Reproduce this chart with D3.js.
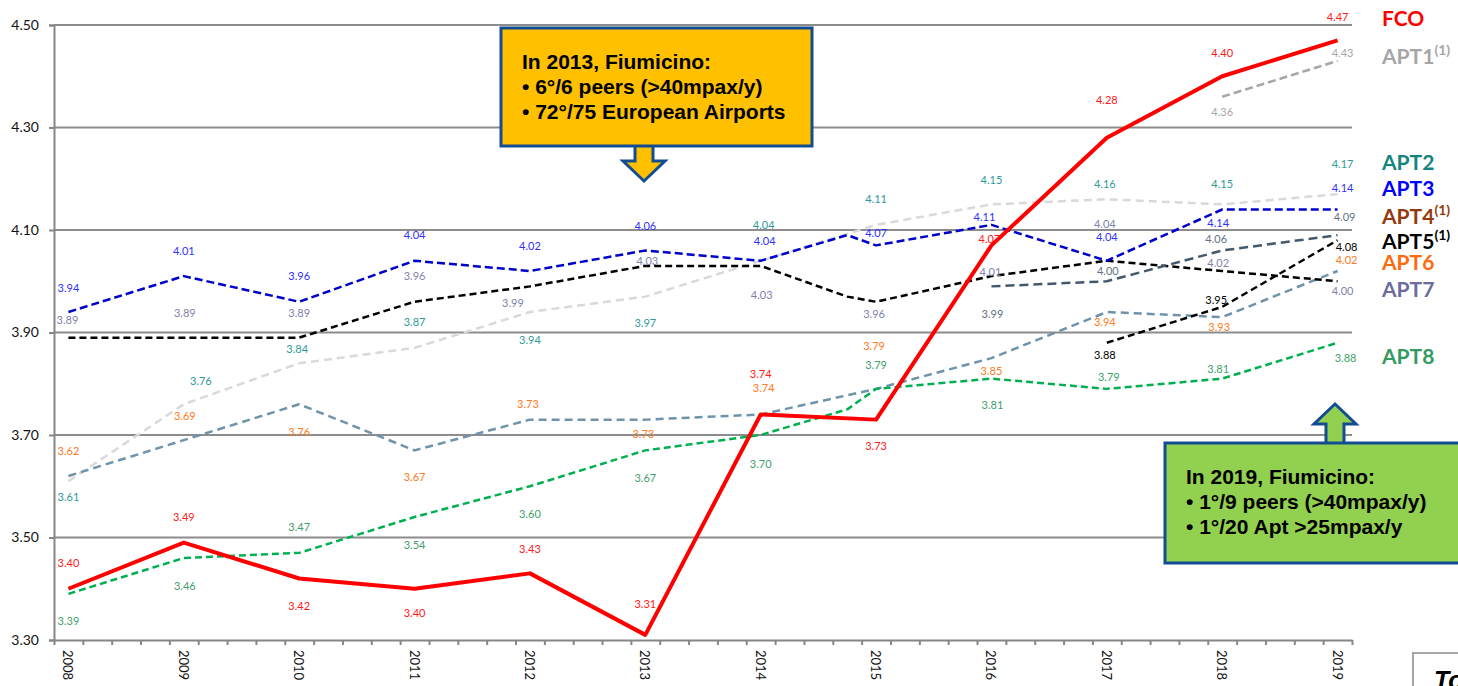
<!DOCTYPE html>
<html>
<head>
<meta charset="utf-8">
<script src="https://cdn.jsdelivr.net/npm/d3@7"></script>
<style>
  body { margin: 0; background: #fff; overflow: hidden; }
  .graphContainer { width: 1458px; height: 686px; }
</style>
</head>
<body>
<div class="graphContainer"></div>
<script>
var width = 1458;
var height = 686;

// data

var years = [2008, 2009, 2010, 2011, 2012, 2013, 2014, 2015, 2016, 2017, 2018, 2019];
var yTicks = [3.3, 3.5, 3.7, 3.9, 4.1, 4.3, 4.5];

var fco  = [3.40, 3.49, 3.42, 3.40, 3.43, 3.31, 3.74, 3.73, 4.07, 4.28, 4.40, 4.47];
var apt1 = [null, null, null, null, null, null, null, null, null, null, 4.36, 4.43];
var apt2 = [3.61, 3.76, 3.84, 3.87, 3.94, 3.97, 4.04, 4.11, 4.15, 4.16, 4.15, 4.17];
var apt3 = [3.94, 4.01, 3.96, 4.04, 4.02, 4.06, 4.04, 4.07, 4.11, 4.04, 4.14, 4.14];
var apt4 = [null, null, null, null, null, null, null, null, 3.99, 4.00, 4.06, 4.09];
var apt5 = [null, null, null, null, null, null, null, null, null, 3.88, 3.95, 4.08];
var apt6 = [3.62, 3.69, 3.76, 3.67, 3.73, 3.73, 3.74, 3.79, 3.85, 3.94, 3.93, 4.02];
var apt7 = [3.89, 3.89, 3.89, 3.96, 3.99, 4.03, 4.03, 3.96, 4.01, 4.04, 4.02, 4.00];
var apt8 = [3.39, 3.46, 3.47, 3.54, 3.60, 3.67, 3.70, 3.79, 3.81, 3.79, 3.81, 3.88];

// extra bend points the original lines have between 2014 and 2015
var apt3Bends = [[2014.75, 4.09]];
var apt7Bends = [[2014.75, 3.97]];
var apt8Bends = [[2014.75, 3.75]];

// label nudges (px) relative to each point

var fcoDy  = [-26, -26, 27, 24, -25, -31, -41, 26, -7, -38, -24, -24];
var apt1Dy = [0, 0, 0, 0, 0, 0, 0, 0, 0, 0, 15, -8];
var apt2Dy = [15, -24, -15, -26, 27, 26, -36, -26, -25, -16, -21, -31];
var apt3Dy = [-25, -26, -26, -26, -26, -25, -20, -13, -8, -24, 13, -22];
var apt4Dy = [0, 0, 0, 0, 0, 0, 0, 0, 27, -11, -12, -19];
var apt5Dy = [0, 0, 0, 0, 0, 0, 0, 0, 0, 12, -7, 6];
var apt6Dy = [-26, -25, 27, 26, -16, 14, -27, -43, 12, 9, 9, -12];
var apt7Dy = [-18, -25, -25, -26, 16, -5, 29, 12, -5, -37, -9, 9];
var apt8Dy = [27, 27, -26, 27, 27, 27, 28, -24, 26, -12, -10, 15];

var fcoDx  = [0, 0, 0, 0, 0, 0, 0, 0, -2, 0, 0, 0];
var apt1Dx = [0, 0, 0, 0, 0, 0, 0, 0, 0, 0, 0, 5];
var apt2Dx = [0, 17, -2, 0, 0, 0, 3, 0, 0, -2, 0, 5];
var apt3Dx = [0, 0, 0, 0, 0, 0, 4, 0, -7, 0, -4, 5];
var apt4Dx = [0, 0, 0, 0, 0, 0, 0, 0, 1, 1, -6, 7];
var apt5Dx = [0, 0, 0, 0, 0, 0, 0, 0, 0, -2, -6, 9];
var apt6Dx = [0, 1, 0, 0, -2, -2, 3, -2, 0, -2, -3, 9];
var apt7Dx = [-1, 1, 0, 0, -17, 2, 1, -2, -1, -2, -4, 5];
var apt8Dx = [0, 1, 0, 0, 0, 0, 0, 0, 1, 2, -4, 8];

var series = [
  { name: "APT2", values: apt2, dy: apt2Dy, dx: apt2Dx, line: "#d9d9d9", label: "#2f9a9a", w: 2.5, dash: "8,5" },
  { name: "APT6", values: apt6, dy: apt6Dy, dx: apt6Dx, line: "#6f93aa", label: "#ff7a22", w: 2.5, dash: "8,5" },
  { name: "APT8", values: apt8, dy: apt8Dy, dx: apt8Dx, line: "#00b050", label: "#3f9f6a", w: 2.5, dash: "7,4", bends: apt8Bends },
  { name: "APT7", values: apt7, dy: apt7Dy, dx: apt7Dx, line: "#000000", label: "#7f7fae", w: 2.5, dash: "7,4", bends: apt7Bends },
  { name: "APT4", values: apt4, dy: apt4Dy, dx: apt4Dx, line: "#44586c", label: "#5f7283", w: 2.5, dash: "9,5" },
  { name: "APT5", values: apt5, dy: apt5Dy, dx: apt5Dx, line: "#000000", label: "#000000", w: 2.5, dash: "7,4" },
  { name: "APT3", values: apt3, dy: apt3Dy, dx: apt3Dx, line: "#0000cc", label: "#2f2fff", w: 2.5, dash: "8,4", bends: apt3Bends },
  { name: "APT1", values: apt1, dy: apt1Dy, dx: apt1Dx, line: "#a6a6a6", label: "#a6a6a6", w: 2.5, dash: "8,4" },
  { name: "FCO",  values: fco,  dy: fcoDy,  dx: fcoDx,  line: "#ff0000", label: "#ff1a1a", w: 4, dash: null }
];

var legendItems = [
  { text: "FCO",  sup: "",    color: "#ff0000" },
  { text: "APT1", sup: "(1)", color: "#a6a6a6" },
  { text: "APT2", sup: "",    color: "#138580" },
  { text: "APT3", sup: "",    color: "#0000ff" },
  { text: "APT4", sup: "(1)", color: "#953a0c" },
  { text: "APT5", sup: "(1)", color: "#000000" },
  { text: "APT6", sup: "",    color: "#ff6a0d" },
  { text: "APT7", sup: "",    color: "#6b6b9c" },
  { text: "APT8", sup: "",    color: "#349a62" }
];
var legendY = [17, 55, 161, 187, 215, 240, 261, 288, 355];

var svgContainer = d3
  .select(".graphContainer")
  .append("svg")
  .attr("width", width)
  .attr("height", height)
  .style("font-family", "Lato, 'Open Sans', sans-serif");

var xScale = d3.scaleLinear().domain([2007.875, 2019.125]).range([54, 1352]);
var yScale = d3.scaleLinear().domain([3.3, 4.5]).range([640, 25]);

// gridlines

svgContainer
  .append("g")
  .selectAll("line")
  .data(yTicks.slice(1))
  .enter()
  .append("line")
  .attr("x1", xScale.range()[0])
  .attr("x2", xScale.range()[1])
  .attr("y1", function (d) { return yScale(d); })
  .attr("y2", function (d) { return yScale(d); })
  .attr("stroke", "#8c8c8c")
  .attr("stroke-width", 2);

// y axis

var yAxis = d3.axisLeft(yScale).tickValues(yTicks).tickFormat(d3.format(".2f")).tickSize(5).tickPadding(10);

var yAxisGroup = svgContainer
  .append("g")
  .attr("id", "y-axis")
  .attr("transform", "translate(54,0)")
  .call(yAxis);

yAxisGroup.select(".domain").attr("stroke", "#868686").attr("stroke-width", 2);
yAxisGroup.selectAll(".tick line").attr("stroke", "#868686").attr("stroke-width", 2);
yAxisGroup.selectAll(".tick text").attr("font-size", 14).attr("fill", "#111").style("font-family", "Lato, sans-serif");

// x axis (quarter ticks, year labels)

var quarterTicks = d3.range(0, 46).map(function (i) { return 2007.875 + i * 0.25; });

var xAxis = d3.axisBottom(xScale).tickValues(quarterTicks).tickFormat("").tickSize(5).tickSizeOuter(0);

var xAxisGroup = svgContainer
  .append("g")
  .attr("id", "x-axis")
  .attr("transform", "translate(0,640)")
  .call(xAxis);

xAxisGroup.select(".domain").attr("stroke", "#868686").attr("stroke-width", 2);
xAxisGroup.selectAll(".tick line").attr("stroke", "#868686").attr("stroke-width", 2);

svgContainer
  .append("g")
  .selectAll("text")
  .data(years)
  .enter()
  .append("text")
  .attr("transform", function (d) { return "translate(" + xScale(d) + ",650) rotate(90)"; })
  .attr("dominant-baseline", "central")
  .attr("font-size", 13)
  .attr("fill", "#111")
  .text(function (d) { return d; });

// lines

var line = d3
  .line()
  .x(function (d) { return xScale(d[0]); })
  .y(function (d) { return yScale(d[1]); });

series.forEach(function (s) {
  var pts = [];
  s.values.forEach(function (v, i) {
    if (v !== null) pts.push([years[i], v]);
  });
  if (s.bends) pts = pts.concat(s.bends);
  pts.sort(function (a, b) { return a[0] - b[0]; });

  svgContainer
    .append("path")
    .datum(pts)
    .attr("d", line)
    .attr("fill", "none")
    .attr("stroke", s.line)
    .attr("stroke-width", s.w)
    .attr("stroke-dasharray", s.dash)
    .attr("stroke-linejoin", "round");
});

// data labels

series.forEach(function (s) {
  svgContainer
    .append("g")
    .selectAll("text")
    .data(s.values.map(function (v, i) { return { v: v, i: i }; }).filter(function (d) { return d.v !== null; }))
    .enter()
    .append("text")
    .attr("x", function (d) { return xScale(years[d.i]) + s.dx[d.i]; })
    .attr("y", function (d) { return yScale(d.v) + s.dy[d.i]; })
    .attr("text-anchor", "middle")
    .attr("dominant-baseline", "central")
    .attr("font-size", 11)
    .attr("fill", s.label)
    .text(function (d) { return d.v.toFixed(2); });
});

// legend

var legendContainer = svgContainer.append("g").attr("id", "legend");

legendItems.forEach(function (d, i) {
  var t = legendContainer
    .append("text")
    .attr("x", 1382)
    .attr("y", legendY[i])
    .attr("dominant-baseline", "central")
    .attr("font-size", 21)
    .attr("font-weight", "bold")
    .attr("fill", d.color)
    .text(d.text);
  if (d.sup) {
    t.append("tspan")
      .attr("dy", -6)
      .attr("font-size", 14)
      .text(d.sup);
  }
});

// callouts

var boxBlue = "#124c92";

function callout(x, y, w, h, fill, lines) {
  svgContainer
    .append("rect")
    .attr("x", x)
    .attr("y", y)
    .attr("width", w)
    .attr("height", h)
    .attr("fill", fill)
    .attr("stroke", boxBlue)
    .attr("stroke-width", 3);
  svgContainer
    .append("g")
    .selectAll("text")
    .data(lines)
    .enter()
    .append("text")
    .attr("x", x + 21)
    .attr("y", function (d, i) { return y + 41 + i * 25; })
    .attr("font-size", 21)
    .attr("font-weight", "bold")
    .style("font-family", "'Liberation Sans', Arial, sans-serif")
    .attr("fill", "#000")
    .text(function (d) { return d; });
}

function blockArrow(cx, tipY, baseY, fill) {
  var dir = tipY > baseY ? 1 : -1;
  var headY = tipY - dir * 20;
  var p = d3.path();
  p.moveTo(cx - 9, baseY);
  p.lineTo(cx - 9, headY);
  p.lineTo(cx - 21, headY);
  p.lineTo(cx, tipY);
  p.lineTo(cx + 21, headY);
  p.lineTo(cx + 9, headY);
  p.lineTo(cx + 9, baseY);
  svgContainer
    .append("path")
    .attr("d", p.toString())
    .attr("fill", fill)
    .attr("stroke", boxBlue)
    .attr("stroke-width", 3)
    .attr("stroke-linejoin", "miter");
}

blockArrow(644, 181, 147, "#ffc000");
callout(501, 28, 311, 118, "#ffc000", [
  "In 2013, Fiumicino:",
  "\u2022 6\u00b0/6 peers (>40mpax/y)",
  "\u2022 72\u00b0/75 European Airports"
]);

blockArrow(1335, 404, 444, "#92d050");
callout(1165, 443, 320, 120, "#92d050", [
  "In 2019, Fiumicino:",
  "\u2022 1\u00b0/9 peers (>40mpax/y)",
  "\u2022 1\u00b0/20 Apt >25mpax/y"
]);

// cut-off box bottom right

svgContainer
  .append("rect")
  .attr("x", 1413)
  .attr("y", 653)
  .attr("width", 80)
  .attr("height", 60)
  .attr("fill", "#fff")
  .attr("stroke", "#a6a6a6")
  .attr("stroke-width", 2);

svgContainer
  .append("text")
  .attr("x", 1434)
  .attr("y", 689)
  .attr("font-size", 25)
  .attr("font-weight", "bold")
  .attr("font-style", "italic")
  .style("font-family", "'Liberation Sans', Arial, sans-serif")
  .attr("fill", "#000")
  .text("To");
</script>
</body>
</html>
